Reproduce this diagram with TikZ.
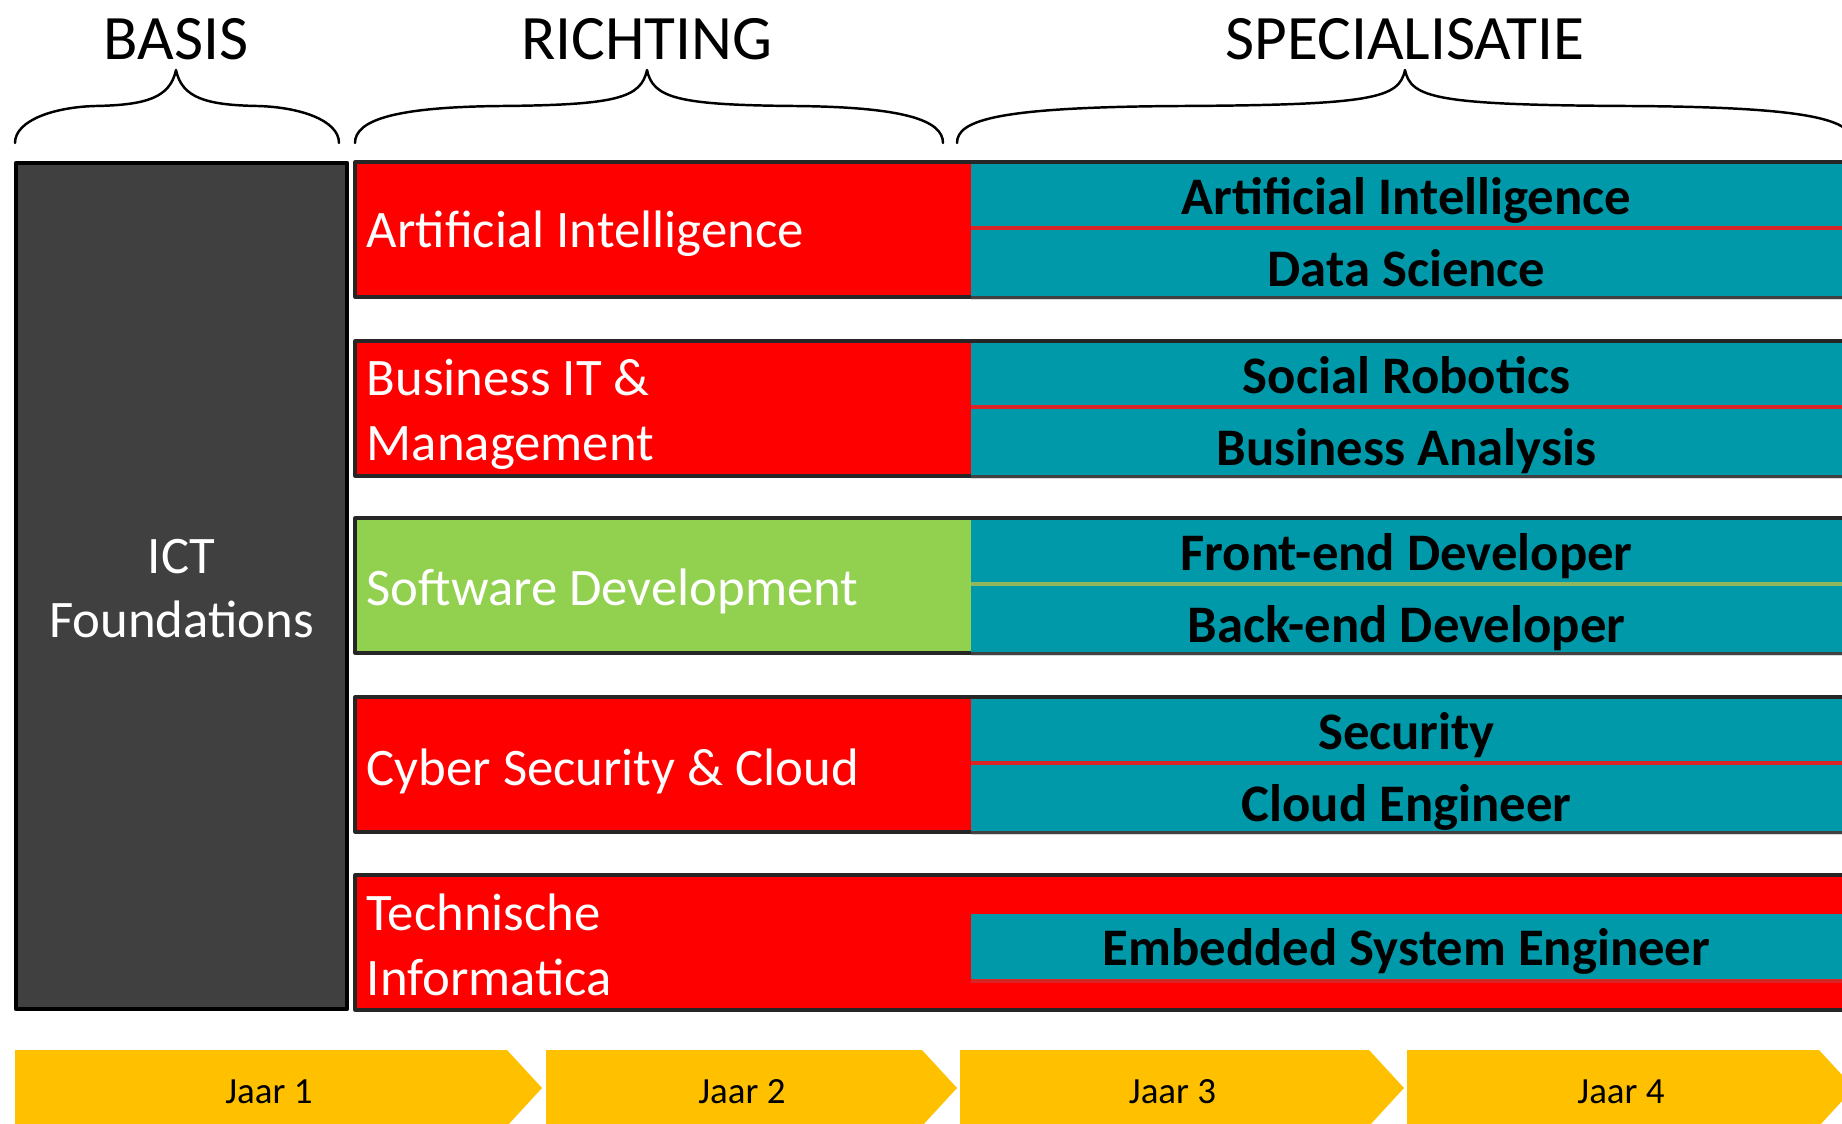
\documentclass[tikz,border=0pt]{standalone}
\usepackage{fontspec}
\setmainfont{Carlito}
\usetikzlibrary{shadows}
\definecolor{donker}{RGB}{64,64,64}
\definecolor{rood}{RGB}{255,0,0}
\definecolor{groen}{RGB}{146,208,80}
\definecolor{blauw}{RGB}{0,153,170}
\definecolor{geel}{RGB}{255,192,0}
\begin{document}
\begin{tikzpicture}[x=0.01cm,y=-0.01cm,line join=round,line cap=round]
	\tikzset{declare function={
			xl=355;xs=971;xr=1860;h=135;
		},
		kop/.style={font=\fontsize{18}{22}\selectfont,inner sep=0pt},
		richting/.style={anchor=west,align=left,text=white,inner sep=0pt,font=\fontsize{15}{18.5}\selectfont},
		spec/.style={fill=blauw,minimum width=8.71cm,minimum height=0.62cm,inner sep=0pt,text height=12.9pt,text depth=2pt,font=\bfseries\fontsize{15}{18}\selectfont,drop shadow={shadow xshift=0pt,shadow yshift=-1.2pt,opacity=.3}},
		specb/.style={spec,minimum height=0.66cm,text height=13.6pt,text depth=0.5pt},
		jaar/.style={font=\fontsize{10.5}{12}\selectfont,inner sep=0pt},
		rij/.style={draw=black!85,line width=0.9pt}
	}
	\useasboundingbox (0,0) rectangle (1842,1124);
	\clip (0,0) rectangle (1842,1124);
	\node[kop] (basis) at (176,39) {BASIS};
	\node[kop] (richting) at (647,39) {RICHTING};
	\node[kop] (specialisatie) at (1405,39) {SPECIALISATIE};
	\foreach \xa/\xm/\xb in {15/176/339,355/647/943,957/1405/1853}{
		\draw[line width=0.7pt] (\xa,143) .. controls (\xa,120) and (\xa+40,107) .. ({(\xa+\xm)/2},106) .. controls (\xm-30,105) and (\xm-6,98) .. (\xm,70) .. controls (\xm+6,98) and (\xm+30,105) .. ({(\xm+\xb)/2},106) .. controls (\xb-40,107) and (\xb,120) .. (\xb,143);
	}
	\node[fill=donker,draw=black,line width=1.1pt,minimum width=3.31cm,minimum height=8.46cm,align=center,text=white,font=\fontsize{15}{18}\selectfont] (ict) at (181.5,586) {};
	\node[align=center,text=white,inner sep=0pt,font=\fontsize{15}{18}\selectfont,yshift=-0.7pt] (ictlabel) at (ict) {ICT\\Foundations};
	\foreach \t/\kleur/\tekst/\dy/\a/\b [count=\i] in {162/rood/{Artificial Intelligence}/-1.3pt/{Artificial Intelligence}/{Data Science},341/rood/{Business IT \&\\Management}/-1.7pt/{Social Robotics}/{Business Analysis},518/groen/{Software Development}/-1.6pt/{Front-end Developer}/{Back-end Developer},697/rood/{Cyber Security \& Cloud}/-1.9pt/{Security}/{Cloud Engineer}}{
		\draw[rij,fill=\kleur] (xl,\t) rectangle (xr,\t+h);
		\node[richting,yshift=\dy] (r\i) at (366,\t+h/2) {\tekst};
		\node[spec] (s\i-a) at (1406.5,\t+33) {\a};
		\node[specb] (s\i-b) at (1406.5,\t+101) {\b};
	}
	\draw[rij,fill=rood] (xl,875) rectangle (xr,1010);
	\node[richting,yshift=-0.7pt] (r5) at (366,942.5) {Technische\\Informatica};
	\node[spec,minimum height=0.65cm] (s5) at (1406.5,946.5) {Embedded System Engineer};
	\foreach \xa/\xb/\tekst [count=\i] in {15/507/Jaar 1,546/922/Jaar 2,960/1369/Jaar 3,1407/1819/Jaar 4}{
		\fill[geel] (\xa,1050)--(\xb,1050)--(\xb+35,1088)--(\xb,1126)--(\xa,1126)--cycle;
		\node[jaar] (j\i) at ({(\xa+\xb)/2+8},1092) {\tekst};
	}
\end{tikzpicture}
\end{document}
